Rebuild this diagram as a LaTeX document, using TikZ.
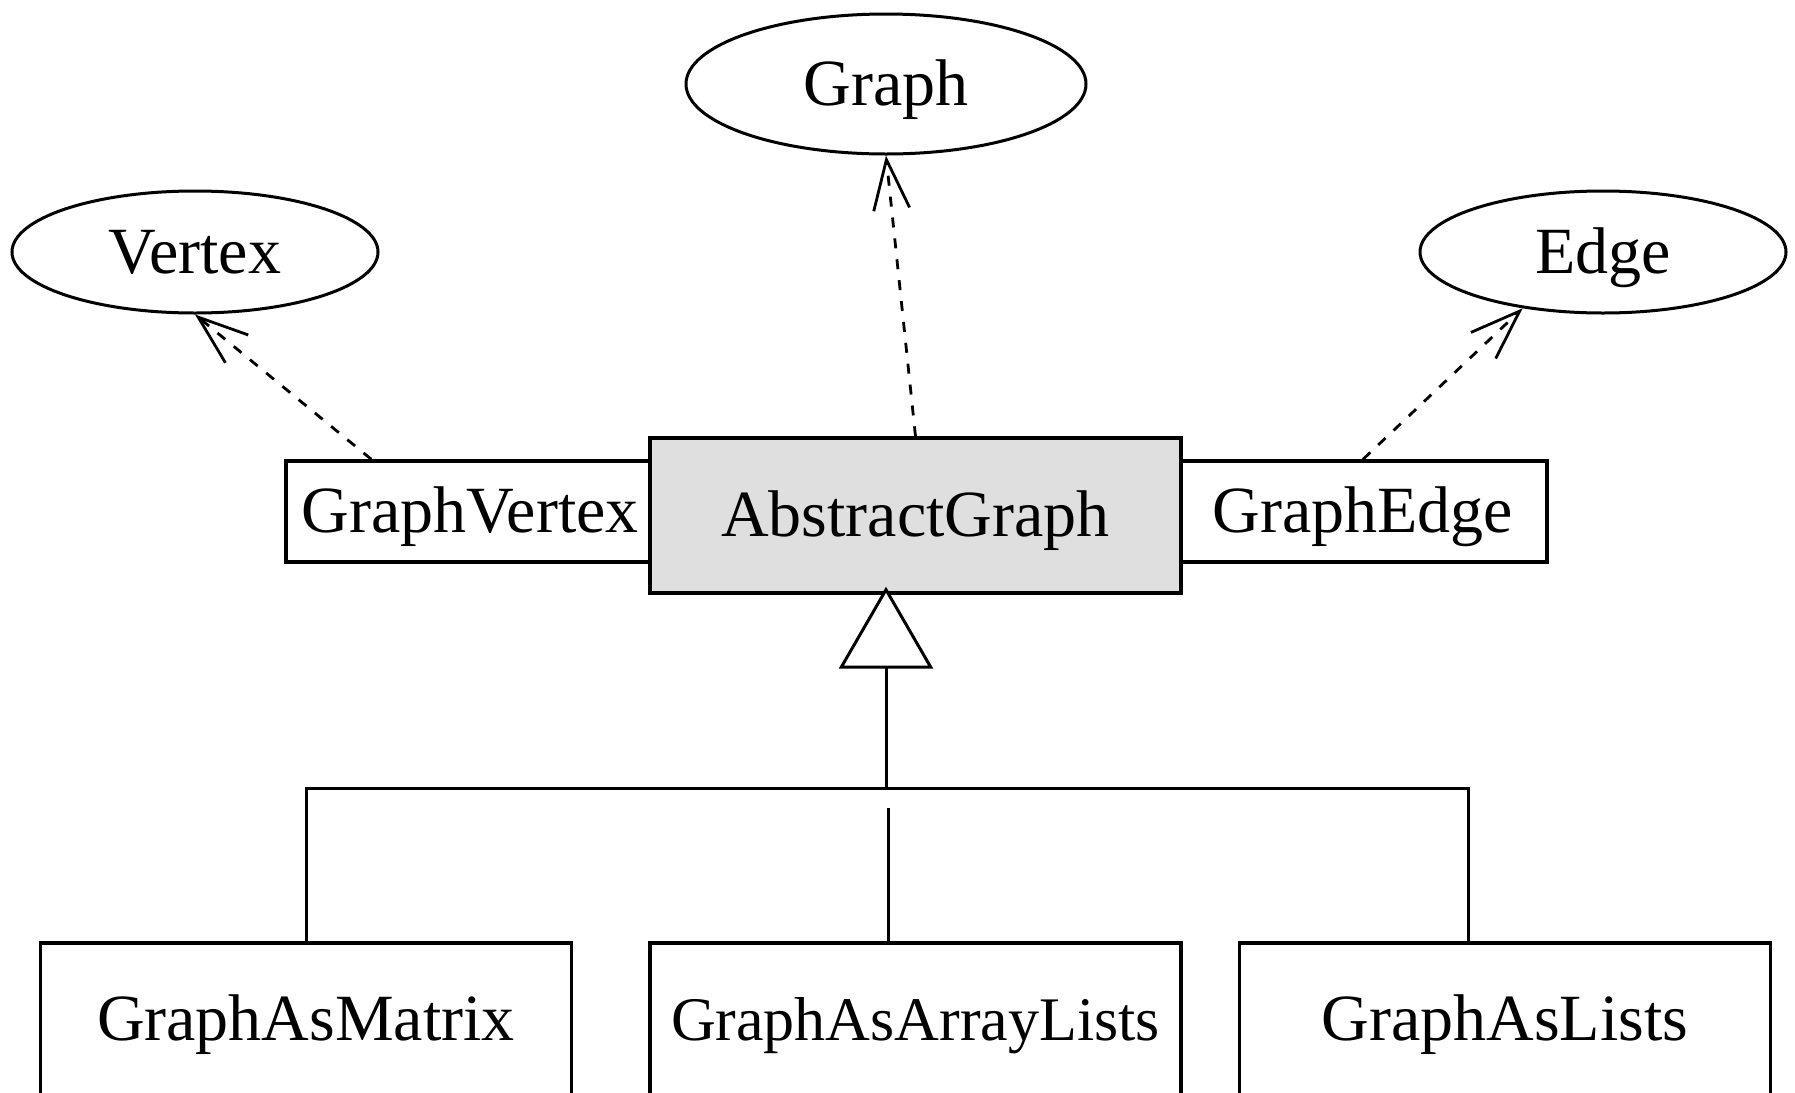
\documentclass[tikz,border=0pt]{standalone}
\usepackage{fontspec}
\setmainfont{Liberation Serif}
\usetikzlibrary{shapes.geometric,arrows.meta}
\definecolor{absfill}{gray}{0.875}

\begin{document}
\begin{tikzpicture}[x=0.5pt,y=-0.5pt,
  every node/.style={font=\fontsize{33}{40}\selectfont,
    text height=28pt,text depth=6.6pt},
  iface/.style={draw,ellipse,line width=1.5pt,inner sep=0pt,
    minimum width=183pt,minimum height=61pt},
  cls/.style={draw,rectangle,line width=1.7pt,inner sep=0pt,
    minimum width=265.5pt},
  realize/.style={line width=1.4pt,dash pattern=on 5pt off 5.5pt,
    -{Straight Barb[length=25pt,width=18pt]}},
  inherit/.style={line width=1.5pt,
    -{Triangle[length=41pt,width=47pt,fill=white]}},
  bus/.style={line width=1.5pt}]
\clip (0,0) rectangle (1795,1093);

% interfaces
\node[iface,minimum width=200pt,minimum height=70pt] (gr) at (886,84) {Graph};
\node[iface] (vx) at (195,252) {Vertex};
\node[iface] (ed) at (1603,252) {Edge};

% abstract class and its helpers
\node[cls,minimum width=184pt,minimum height=50.5pt] (gv) at (470,511.5) {GraphVertex};
\node[cls,minimum width=184pt,minimum height=50.5pt] (ge) at (1363,511.5) {GraphEdge};
\node[cls,fill=absfill,minimum height=77.5pt] (ag) at (915.5,515.5) {AbstractGraph};

% concrete classes
\node[cls,minimum height=76pt] (gam) at (306,1019) {GraphAsMatrix};
\node[cls,minimum height=76pt,font=\fontsize{31}{37}\selectfont] (gaal) at (915.5,1019) {GraphAsArrayLists};
\node[cls,minimum height=76pt] (gal) at (1505,1019) {GraphAsLists};

\coordinate (junc) at (886,788);
\coordinate (busR) at (1468,788);
\coordinate (mid) at (888,808);

\draw[realize] ([xshift=43.5pt]gv.north west) -- (vx.south);
\draw[realize] (ag.north) -- (gr.south);
\draw[realize] (ge.north) -- (ed.215);

\draw[bus] (gam.north) |- (busR) -- (busR |- gal.north);
\draw[bus] (mid) -- (mid |- gaal.north);
\draw[inherit] (junc) -- ([yshift=4pt]junc |- ag.south);
\end{tikzpicture}
\end{document}
